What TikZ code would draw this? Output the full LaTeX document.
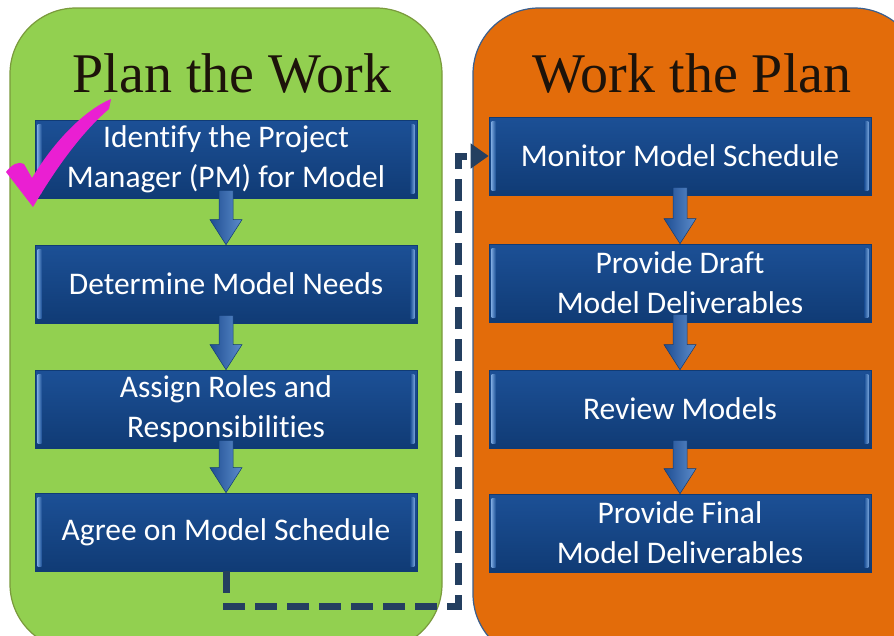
\documentclass[tikz,border=0pt]{standalone}
\usepackage{fontspec}
\setmainfont[Ligatures=NoCommon]{Carlito}
\newfontfamily\titlefont{Liberation Serif}
\usetikzlibrary{calc,arrows.meta}
\definecolor{grn}{HTML}{92D050}
\definecolor{grnb}{HTML}{7A9A3C}
\definecolor{org}{HTML}{E36C0A}
\definecolor{orgb}{HTML}{3A5F8E}
\definecolor{boxtop}{HTML}{1C5096}
\definecolor{boxbot}{HTML}{103B75}
\definecolor{bevel}{HTML}{6F9DD6}
\definecolor{arrtop}{HTML}{1F4E93}
\definecolor{arrbot}{HTML}{5C8CCB}
\definecolor{dash}{HTML}{243F60}
\definecolor{tick}{HTML}{EA1FD2}
\tikzset{
  stepbox/.style={rectangle, minimum width=382pt, minimum height=78pt, inner sep=0pt,
    top color=boxtop, bottom color=boxbot, draw=boxbot, line width=0.6pt,
    text=white, align=center, font=\fontsize{31.5}{40}\selectfont},
  titletext/.style={font=\titlefont\fontsize{56}{60}\selectfont, text=black!85!brown, inner sep=0pt, anchor=base},
  blockarr/.style={left color=arrtop, right color=arrbot, draw=boxbot, line width=0.5pt},
  dashline/.style={draw=dash, line width=7pt, dash pattern=on 22pt off 10pt,
    -{Triangle[length=18pt,width=24pt]}},
}
\newcommand{\bev}[1]{%
  \shade[left color=bevel, right color=boxtop] ($(#1.north west)+(3pt,-5pt)$) rectangle ($(#1.south west)+(7pt,5pt)$);
  \shade[left color=boxtop, right color=bevel] ($(#1.north east)+(-7pt,-5pt)$) rectangle ($(#1.south east)+(-3pt,5pt)$);
}
\newcommand{\barrow}[2]{%
  \path[blockarr] let \p1=(#1.south), \p2=(#2.north) in
    (\x1-7pt,\y1+8pt) -- (\x1-7pt,\y2+25pt) -- (\x1-16pt,\y2+25pt) -- (\x1,\y2)
    -- (\x1+16pt,\y2+25pt) -- (\x1+7pt,\y2+25pt) -- (\x1+7pt,\y1+8pt) -- cycle;
}
\begin{document}
\begin{tikzpicture}[x=1pt,y=-1pt]
\useasboundingbox (0,0) rectangle (894,635);
\clip (0,0) rectangle (894,635);
\fill[white] (0,0) rectangle (894,635);
% panels
\draw[fill=grn, draw=grnb, line width=1.2pt, rounded corners=66pt] (10,8) rectangle (442,650);
\draw[fill=org, draw=orgb, line width=1.2pt, rounded corners=66pt] (473,8) rectangle (920,660);
% titles
\node[titletext] (t1) at (232,92) {Plan the Work};
\node[titletext] (t2) at (692,92) {Work the Plan};
% left boxes
\node[stepbox] (a1) at (226,159) {};
\node[stepbox] (a2) at (226,284) {};
\node[stepbox] (a3) at (226,409) {};
\node[stepbox] (a4) at (226,532) {};
% right boxes
\node[stepbox] (b1) at (680,156) {};
\node[stepbox] (b2) at (680,283) {};
\node[stepbox] (b3) at (680,409) {};
\node[stepbox] (b4) at (680,533) {};
\foreach \n in {a1,a2,a3,a4,b1,b2,b3,b4}{\bev{\n}}
% labels
\node[text=white, align=center, font=\fontsize{31.5}{40}\selectfont] (la1) at (a1) {Identify the Project\\Manager (PM) for Model};
\node[text=white, align=center, font=\fontsize{31.5}{40}\selectfont] (la2) at (a2) {Determine Model Needs};
\node[text=white, align=center, font=\fontsize{31.5}{40}\selectfont] (la3) at (a3) {Assign Roles and\\Responsibilities};
\node[text=white, align=center, font=\fontsize{31.5}{40}\selectfont] (la4) at (a4) {Agree on Model Schedule};
\node[text=white, align=center, font=\fontsize{31.5}{40}\selectfont] (lb1) at (b1) {Monitor Model Schedule};
\node[text=white, align=center, font=\fontsize{31.5}{40}\selectfont] (lb2) at (b2) {Provide Draft\\Model Deliverables};
\node[text=white, align=center, font=\fontsize{31.5}{40}\selectfont] (lb3) at (b3) {Review Models};
\node[text=white, align=center, font=\fontsize{31.5}{40}\selectfont] (lb4) at (b4) {Provide Final\\Model Deliverables};
\barrow{a1}{a2}
\barrow{a2}{a3}
\barrow{a3}{a4}
\barrow{b1}{b2}
\barrow{b2}{b3}
\barrow{b3}{b4}
% dashed connector
\coordinate (c1) at (458,606);
\draw[dashline] (a4.south) |- (c1) |- (b1.west);
% check mark
\fill[tick] (6,172) .. controls (12,164) and (19,161) .. (24,164) -- (32,178)
  .. controls (55,140) and (85,110) .. (111,99) -- (109,109)
  .. controls (82,132) and (56,168) .. (33,207) -- cycle;
\end{tikzpicture}
\end{document}
